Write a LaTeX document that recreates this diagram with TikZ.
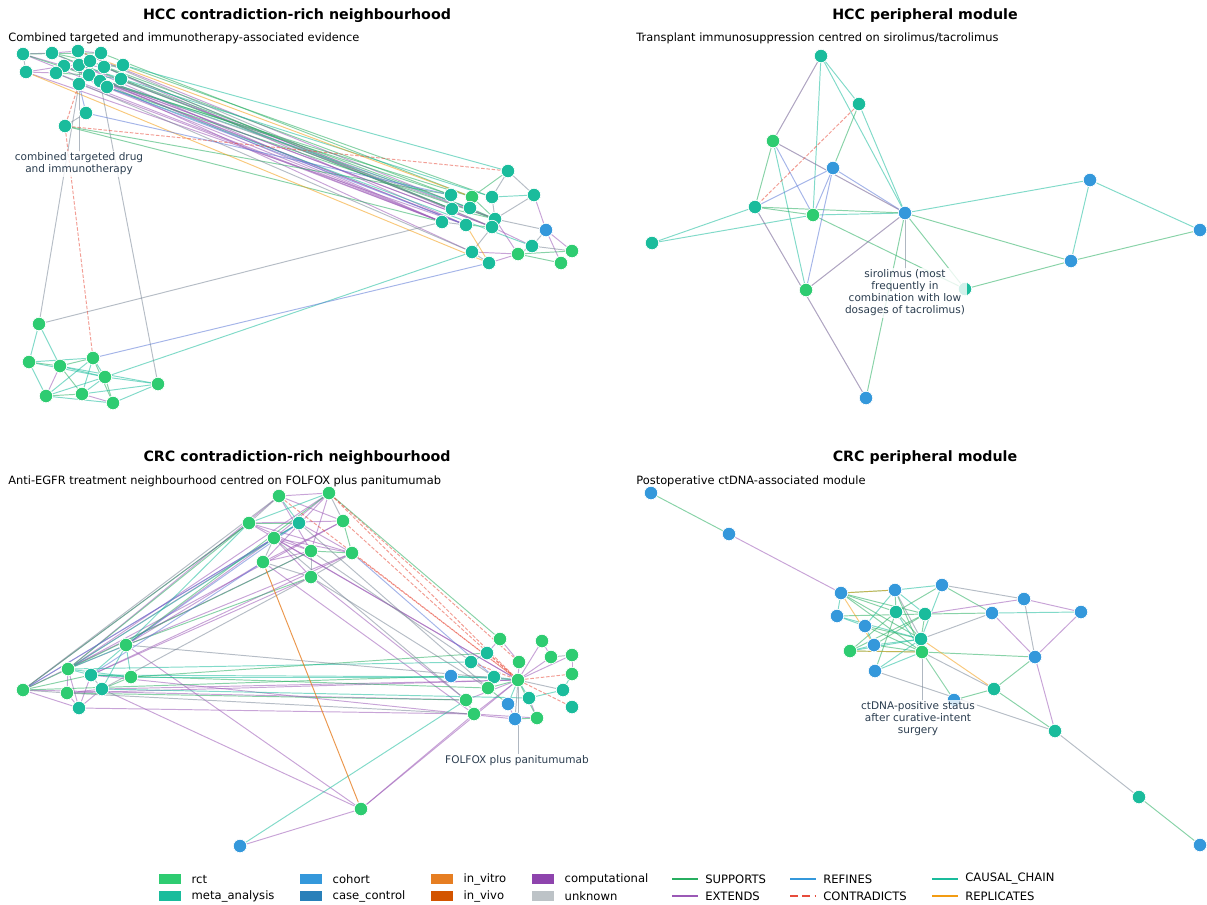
\documentclass[tikz,border=0pt]{standalone}
\usepackage{fontspec}
\setmainfont{DejaVu Sans}
\usetikzlibrary{backgrounds}

\definecolor{rctc}{HTML}{2ECC71}
\definecolor{metac}{HTML}{1ABC9C}
\definecolor{cohortc}{HTML}{3498DB}
\definecolor{casec}{HTML}{2980B9}
\definecolor{vitroc}{HTML}{E67E22}
\definecolor{vivoc}{HTML}{D35400}
\definecolor{compc}{HTML}{8E44AD}
\definecolor{unkc}{HTML}{BDC3C7}
\definecolor{supc}{HTML}{27AE60}
\definecolor{extc}{HTML}{9B59B6}
\definecolor{rfnc}{HTML}{3498DB}
\definecolor{rfnedge}{HTML}{5B78D6}
\definecolor{conc}{HTML}{E74C3C}
\definecolor{cauc}{HTML}{1ABC9C}
\definecolor{repc}{HTML}{F39C12}
\definecolor{othc}{HTML}{7A8797}
\definecolor{labc}{HTML}{2C3E50}

\tikzset{
  ev/.style={circle, draw=white, line width=0.4pt, inner sep=0pt, minimum size=0.27cm},
  rct/.style={ev, fill=rctc},
  meta/.style={ev, fill=metac},
  cohort/.style={ev, fill=cohortc},
  lnk/.style={line width=0.55pt, draw opacity=0.55},
  supp/.style={lnk, draw=supc},
  ext/.style={lnk, draw=extc},
  rfn/.style={lnk, draw=rfnedge},
  con/.style={lnk, draw=conc, dash pattern=on 2pt off 1pt},
  cau/.style={lnk, draw=cauc},
  rep/.style={lnk, draw=repc},
  oth/.style={lnk, draw=othc},
  ptr/.style={draw=othc, line width=0.5pt, draw opacity=0.6},
  ttl/.style={font=\fontsize{8.1}{10}\selectfont\bfseries},
  sub/.style={font=\fontsize{6.5}{8}\selectfont, anchor=west, inner sep=0pt},
  lab/.style={font=\fontsize{6}{6.8}\selectfont, text=labc, align=center, fill=white, fill opacity=0.8, text opacity=1, inner sep=1pt},
  lgd/.style={font=\fontsize{6.6}{8}\selectfont, anchor=west, inner sep=0pt},
  swatch/.style={minimum width=0.44cm, minimum height=0.19cm, inner sep=0pt},
  lgline/.style={line width=1.6pt},
}

\begin{document}
\begin{tikzpicture}[x=0.02cm, y=-0.02cm]
\useasboundingbox (0,0) rectangle (1207,904);

% titles
\node[ttl] (t1) at (297,16) {HCC contradiction-rich neighbourhood};
\node[ttl] (t2) at (925,16) {HCC peripheral module};
\node[ttl] (t3) at (297,458) {CRC contradiction-rich neighbourhood};
\node[ttl] (t4) at (925,458) {CRC peripheral module};
\node[sub] (s1) at (8,38) {Combined targeted and immunotherapy-associated evidence};
\node[sub] (s2) at (636,38) {Transplant immunosuppression centred on sirolimus/tacrolimus};
\node[sub] (s3) at (8,481) {Anti-EGFR treatment neighbourhood centred on FOLFOX plus panitumumab};
\node[sub] (s4) at (636,481) {Postoperative ctDNA-associated module};

% HCC contradiction-rich
\foreach \n/\x/\y in {a1/23/54, a2/26/72, a3/52/53, a4/78/51, a5/101/53, a6/64/66, a7/79/65,
    a8/90/61, a9/104/67, a10/123/65, a11/56/73, a12/89/75, a13/100/81, a14/121/79,
    a15/79/84, a16/107/87, a17/86/113, a18/65/126}
  \node[meta] (\n) at (\x,\y) {};
\foreach \n/\x/\y/\s in {b1/508/171/meta, b2/451/195/meta, b3/472/197/rct, b4/492/197/meta,
    b5/534/195/meta, b6/452/209/meta, b7/470/208/meta, b8/442/222/meta, b9/466/225/meta,
    b10/495/219/meta, b11/492/227/meta, b12/546/230/cohort, b13/532/246/meta,
    b14/472/252/meta, b15/518/254/rct, b16/572/251/rct, b17/489/263/meta, b18/561/263/rct}
  \node[\s] (\n) at (\x,\y) {};
\foreach \n/\x/\y in {c1/39/324, c2/29/362, c3/60/366, c4/93/358, c5/105/377, c6/158/384,
    c7/46/396, c8/82/394, c9/113/403}
  \node[rct] (\n) at (\x,\y) {};

% HCC peripheral
\foreach \n/\x/\y/\s in {d1/821/56/meta, d2/859/104/meta, d3/773/141/rct, d4/833/168/cohort,
    d5/755/207/meta, d6/813/215/rct, d7/905/213/cohort, d8/652/243/meta, d9/806/290/rct,
    d10/965/289/meta, d11/1090/180/cohort, d12/1200/230/cohort, d13/1071/261/cohort,
    d14/866/398/cohort}
  \node[\s] (\n) at (\x,\y) {};

% CRC contradiction-rich
\foreach \n/\x/\y/\s in {e1/279/496/rct, e2/329/493/rct, e3/249/523/rct, e4/299/523/meta,
    e5/343/521/rct, e6/274/538/rct, e7/311/551/rct, e8/352/553/rct, e9/263/562/rct,
    e10/311/577/rct,
    f1/23/690/rct, f2/68/669/rct, f3/126/645/rct, f4/91/675/meta, f5/131/677/rct,
    f6/67/693/rct, f7/102/689/meta, f8/79/708/meta,
    g1/500/639/rct, g2/542/641/rct, g3/487/653/meta, g4/471/662/meta, g5/519/662/rct,
    g6/551/657/rct, g7/572/655/rct, g8/451/676/cohort, g9/494/677/meta, g10/518/680/rct,
    g11/572/674/rct, g12/488/688/rct, g13/466/700/rct, g14/529/698/meta, g15/563/690/meta,
    g16/508/704/cohort, g17/572/707/meta, g18/474/714/rct, g19/515/719/cohort,
    g20/537/718/rct, h1/361/809/rct, h2/240/846/cohort}
  \node[\s] (\n) at (\x,\y) {};

% CRC peripheral
\foreach \n/\x/\y/\s in {k1/651/493/cohort, k2/729/534/cohort, k3/841/593/cohort,
    k4/895/590/cohort, k5/942/585/cohort, k6/1024/599/cohort, k7/837/616/cohort,
    k8/896/612/meta, k9/925/614/meta, k10/992/613/cohort, k11/1081/612/cohort,
    k12/865/626/cohort, k13/921/639/meta, k14/874/645/cohort, k15/850/651/rct,
    k16/922/652/rct, k17/1035/657/cohort, k18/875/671/cohort, k19/994/689/meta,
    k20/954/700/cohort, k21/1055/731/meta, k22/1139/797/meta, k23/1200/845/cohort}
  \node[\s] (\n) at (\x,\y) {};

% edges, under the nodes
\begin{scope}[on background layer]
  % HCC contradiction-rich
  \foreach \u/\v in {a1/b8, a3/b8, a6/b9, a7/b10, a11/b8, a12/b11, a13/b14, a6/b11, a9/b9,
      a15/b8, a4/b10, a14/b6, a2/b9, a8/b11, a12/b8, a13/b9,
      a1/a3, a1/a6, a3/a4, a2/a11, a6/a7, a4/a5, a7/a9, a2/a6,
      b5/b12, b12/b16, b12/b18, b11/b13, b10/b15, b14/b15, b17/b15, c3/c7, c8/c9}
    \draw[ext] (\u) -- (\v);
  \foreach \u/\v in {a1/b2, a5/b3, a9/b6, a10/b4, a14/b7, a18/b2, a18/b8, a3/b6, a16/b10,
      a13/b3, a8/b2, a1/a5, a3/a8, a11/a12, a9/a10,
      b1/b3, b3/b10, b7/b10, b6/b10, b9/b11, b15/b16, b15/b18,
      c2/c3, c3/c4, c3/c8, c4/c9, c5/c9, c7/c8}
    \draw[supp] (\u) -- (\v);
  \foreach \u/\v in {a10/b1, a7/b4, a12/b7, a16/b13, a13/a16, a12/a14, b4/b5, c5/b14,
      c1/c2, c1/c3, c2/c4, c2/c7, c2/c5, c3/c5, c3/c6, c4/c5, c4/c8, c4/c7, c5/c6,
      c5/c8, c7/c9, c8/c6, c9/c6, c7/c5}
    \draw[cau] (\u) -- (\v);
  \foreach \u/\v in {a4/b11, a11/b14, a6/b10, a15/c1, a13/c6, c1/b8, a1/a2, a17/a18,
      a7/a15, b1/b4, b1/b5, b4/b10, b5/b10, b10/b12, b12/b13, b13/b16, b13/b15,
      b14/b17, b14/b11, b8/b9}
    \draw[oth] (\u) -- (\v);
  \foreach \u/\v in {a2/b17, a4/b3, b9/b17}
    \draw[rep] (\u) -- (\v);
  \foreach \u/\v in {a17/b2, a16/b9, c4/b17, a15/a17}
    \draw[rfn] (\u) -- (\v);
  \foreach \u/\v in {a18/b1, a18/c4, a15/a18}
    \draw[con] (\u) -- (\v);

  % HCC peripheral
  \foreach \u/\v in {d1/d6, d1/d2, d1/d7, d2/d7, d3/d9, d5/d8, d6/d8, d6/d7, d7/d11,
      d11/d13, d11/d12}
    \draw[cau] (\u) -- (\v);
  \foreach \u/\v in {d2/d4, d3/d5, d5/d6, d5/d7, d6/d10, d7/d14, d7/d10, d7/d13, d12/d13,
      d10/d13}
    \draw[supp] (\u) -- (\v);
  \foreach \u/\v in {d3/d6, d4/d5, d4/d6, d4/d9, d4/d7}
    \draw[rfn] (\u) -- (\v);
  \foreach \u/\v in {d1/d3, d3/d7, d5/d14, d9/d7}
    \draw[oth] (\u) -- (\v);
  \foreach \u/\v in {d1/d3, d3/d7, d5/d14, d9/d7}
    \draw[ext, draw opacity=0.25] (\u) -- (\v);
  \draw[con] (d2) -- (d5);

  % CRC contradiction-rich
  \foreach \u/\v in {e1/e2, e1/e5, e3/e5, e3/e7, e2/e6, e2/e9, e4/e8, e6/e8, e9/e7, e6/e10,
      e2/e7, e3/e8, e1/e7, e9/e5, e6/e7,
      e3/f1, e6/f2, e4/f1, e2/f2, e9/f3, e7/f1, e6/f3, e1/f2, e8/f4, e10/f4, e5/f2, e8/f2,
      e3/g10, e9/g18, e6/g10, e10/g13,
      f7/g10, f8/g18, f6/g10, f4/g19, f1/g13,
      f1/f8, f2/f6, f2/f8, f4/f8, f6/f7, f6/f8, f7/f8,
      g1/g3, g1/g5, g2/g6, g2/g10, g5/g10, g6/g10, g7/g10, g7/g11, g14/g20, g10/g13,
      g10/g18, g16/g19, g18/g20,
      h1/f3, h1/f7, h1/g18, h1/g10, h1/h2}
    \draw[ext] (\u) -- (\v);
  \foreach \u/\v in {e3/e4, e7/e8, e5/e8, e3/f1, e3/f2, e2/f3, e7/f2, e10/f3, e2/g1,
      f6/g13, f5/g3, f1/g8, f4/g12, f1/f2, f1/f4, f5/f7,
      g10/g20, g10/g12, g12/g16, g19/g20}
    \draw[supp] (\u) -- (\v);
  \foreach \u/\v in {e1/e4, e2/e3, e4/e6, e4/f2, e3/f3, f4/g9, f5/g9, f7/g14, f2/g4,
      f2/f3, f2/f4, f3/f4, f3/f5, f3/f7, f4/f5, f2/f5,
      g3/g4, g11/g15, g10/g14, g10/g16, g14/g15, g9/g10, g8/g10, h2/g13}
    \draw[cau] (\u) -- (\v);
  \foreach \u/\v in {e1/e3, e2/e5, e9/e10, e7/e10, e6/e9, e8/e10, e1/f1, e10/f7,
      e6/g13, e7/g9, e10/g12, e4/g12, f3/g10, f6/g18, f1/f6, f4/f7, g6/g7, g10/g15,
      g10/g19, g13/g18}
    \draw[oth] (\u) -- (\v);
  \foreach \u/\v in {e4/f3, e6/f1, e9/f4, e8/g9}
    \draw[rfn] (\u) -- (\v);
  \foreach \u/\v in {e2/g10, e5/g10, e8/g10, e1/g10, e2/g5, g3/g10, g4/g10, g10/g11,
      g10/g17}
    \draw[con] (\u) -- (\v);
  \draw[rep, draw=vitroc, draw opacity=0.8] (e9) -- (h1);

  % CRC peripheral
  \foreach \u/\v in {k1/k2, k3/k8, k3/k9, k3/k13, k4/k8, k4/k16, k5/k10, k5/k8, k9/k10,
      k7/k9, k8/k15, k12/k16, k14/k9, k15/k9, k16/k17, k16/k20, k19/k17, k19/k21,
      k20/k19, k22/k23, k8/k13, k9/k13, k12/k13, k14/k16, k18/k8, k3/k16, k3/k4, k15/k16}
    \draw[supp] (\u) -- (\v);
  \foreach \u/\v in {k2/k3, k9/k6, k6/k11, k10/k17, k11/k17, k17/k21}
    \draw[ext] (\u) -- (\v);
  \foreach \u/\v in {k4/k5, k4/k12, k3/k7, k7/k12, k5/k13, k12/k14, k14/k13, k18/k13,
      k8/k16, k7/k13, k15/k13, k10/k11, k4/k9, k18/k16, k14/k15}
    \draw[cau] (\u) -- (\v);
  \foreach \u/\v in {k5/k6, k6/k17, k13/k10, k16/k19, k18/k21, k21/k22, k4/k13}
    \draw[oth] (\u) -- (\v);
  \foreach \u/\v in {k13/k19, k15/k16, k3/k14, k3/k4}
    \draw[rep] (\u) -- (\v);

  % label pointers
  \draw[ptr] (a15) -- (79,152);
  \draw[ptr] (d7) -- (905,270);
  \draw[ptr] (g10) -- (518,754);
  \draw[ptr] (k16) -- (922,702);
\end{scope}

% node labels
\node[lab] (la) at (79,164) {combined targeted drug\\and immunotherapy};
\node[lab] (ld) at (905,293) {sirolimus (most\\frequently in\\combination with low\\dosages of tacrolimus)};
\node[lab] (lg) at (517,761) {FOLFOX plus panitumumab};
\node[lab] (lk) at (918,719) {ctDNA-positive status\\after curative-intent\\surgery};

% legend
\foreach \n/\x/\y/\c/\t in {lrct/170/879/rctc/rct, lmeta/170/896/metac/meta\_analysis,
    lcoh/311/879/cohortc/cohort, lcase/311/896/casec/case\_control,
    lvitro/442/879/vitroc/in\_vitro, lvivo/442/896/vivoc/in\_vivo,
    lcomp/543/879/compc/computational, lunk/543/896/unkc/unknown}
{
  \node[swatch, fill=\c] (\n) at (\x,\y) {};
  \node[lgd] at ([xshift=0.2cm]\n.east) {\t};
}
\foreach \n/\x/\y/\s/\t in {lsup/672/879/supc/SUPPORTS, lext/672/896/extc/EXTENDS,
    lrfn/790/879/rfnc/REFINES, lcau/932/879/cauc/CAUSAL\_CHAIN, lrep/932/896/repc/REPLICATES}
{
  \coordinate (\n) at (\x,\y);
  \draw[lgline, draw=\s] (\n) -- ++(26,0) coordinate (\n e);
  \node[lgd] at ([xshift=0.14cm]\n e) {\t};
}
\coordinate (lcon) at (790,896);
\draw[lgline, draw=conc, dash pattern=on 4.5pt off 2.5pt] (lcon) -- ++(26,0) coordinate (lcone);
\node[lgd] at ([xshift=0.14cm]lcone) {CONTRADICTS};
\end{tikzpicture}
\end{document}
